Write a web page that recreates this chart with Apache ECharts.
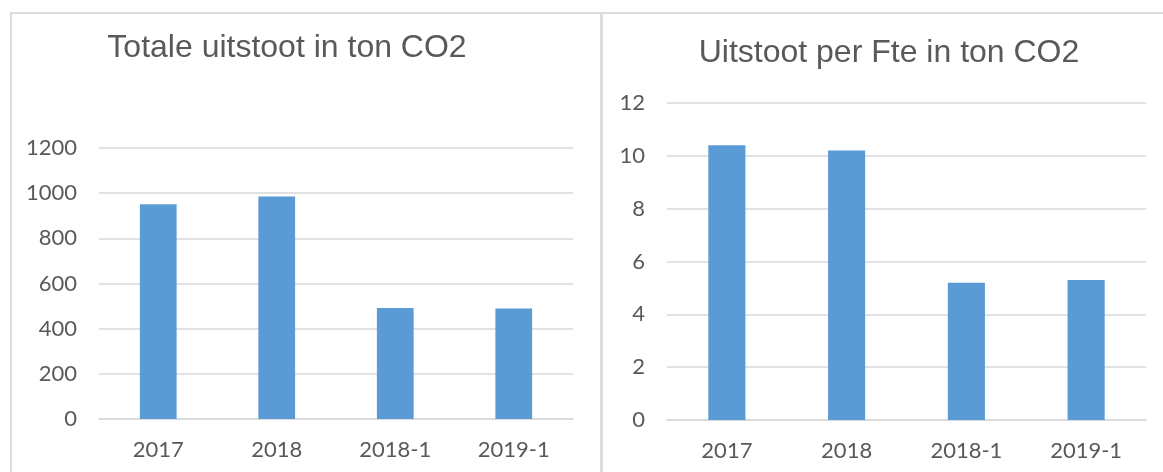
<!DOCTYPE html>
<html>
<head>
<meta charset="utf-8">
<script src="https://cdn.jsdelivr.net/npm/echarts@6/dist/echarts.min.js"></script>
<style>
html,body{margin:0;padding:0;background:#fff;}
#c{width:1163px;height:472px;}
</style>
</head>
<body>
<div id="c"></div>
<script>
// ---- data ----
const categories = ['2017', '2018', '2018-1', '2019-1'];
const totalEmission = [951, 985, 492, 489];
const emissionPerFte = [10.4, 10.2, 5.2, 5.3];
const titles = ['Totale uitstoot in ton CO2', 'Uitstoot per Fte in ton CO2'];
const totalAxis = { min: 0, max: 1200, interval: 200 };
const fteAxis = { min: 0, max: 12, interval: 2 };

// ---- styles ----
const labelColor = '#595959';
const gridColor = '#d9d9d9';
const barColor = '#5b9bd5';
const labelFont = 'Lato';
const titleFont = 'Liberation Sans';

const chart = echarts.init(document.getElementById('c'), null, { renderer: 'canvas' });

function xAxis(gridIndex) {
  return {
    type: 'category', gridIndex, data: categories,
    axisLine: { show: true, lineStyle: { color: gridColor, width: 1.5 } },
    axisTick: { show: false },
    axisLabel: { color: labelColor, fontFamily: labelFont, fontSize: 22, margin: 20 }
  };
}
function yAxis(gridIndex, ax) {
  return {
    type: 'value', gridIndex, min: ax.min, max: ax.max, interval: ax.interval,
    axisLine: { show: false }, axisTick: { show: false },
    splitLine: { lineStyle: { color: gridColor, width: 1.5 } },
    axisLabel: { color: labelColor, fontFamily: labelFont, fontSize: 22, margin: 22,
      formatter: v => String(v) }
  };
}

const option = {
  animation: false,
  backgroundColor: '#ffffff',
  title: [
    { text: titles[0], left: 282, top: 27, textAlign: 'center',
      textStyle: { color: labelColor, fontFamily: titleFont, fontSize: 32, fontWeight: 'normal' } },
    { text: titles[1], left: 884, top: 32, textAlign: 'center',
      textStyle: { color: labelColor, fontFamily: titleFont, fontSize: 32, fontWeight: 'normal' } }
  ],
  grid: [
    { left: 99, right: 590, top: 148, bottom: 53, containLabel: false },
    { left: 667, right: 17, top: 103, bottom: 52, containLabel: false }
  ],
  xAxis: [xAxis(0), xAxis(1)],
  yAxis: [yAxis(0, totalAxis), yAxis(1, fteAxis)],
  series: [
    { type: 'bar', xAxisIndex: 0, yAxisIndex: 0, data: totalEmission, barWidth: '31%',
      itemStyle: { color: barColor } },
    { type: 'bar', xAxisIndex: 1, yAxisIndex: 1, data: emissionPerFte, barWidth: '31%',
      itemStyle: { color: barColor } }
  ],
  graphic: [
    { type: 'line', shape: { x1: 10, y1: 13, x2: 1163, y2: 13 }, style: { stroke: '#dcdcdc', lineWidth: 2 } },
    { type: 'line', shape: { x1: 11, y1: 12, x2: 11, y2: 472 }, style: { stroke: '#dcdcdc', lineWidth: 2 } },
    { type: 'line', shape: { x1: 601.5, y1: 12, x2: 601.5, y2: 472 }, style: { stroke: '#dcdcdc', lineWidth: 3 } }
  ]
};
chart.setOption(option);
</script>
</body>
</html>
